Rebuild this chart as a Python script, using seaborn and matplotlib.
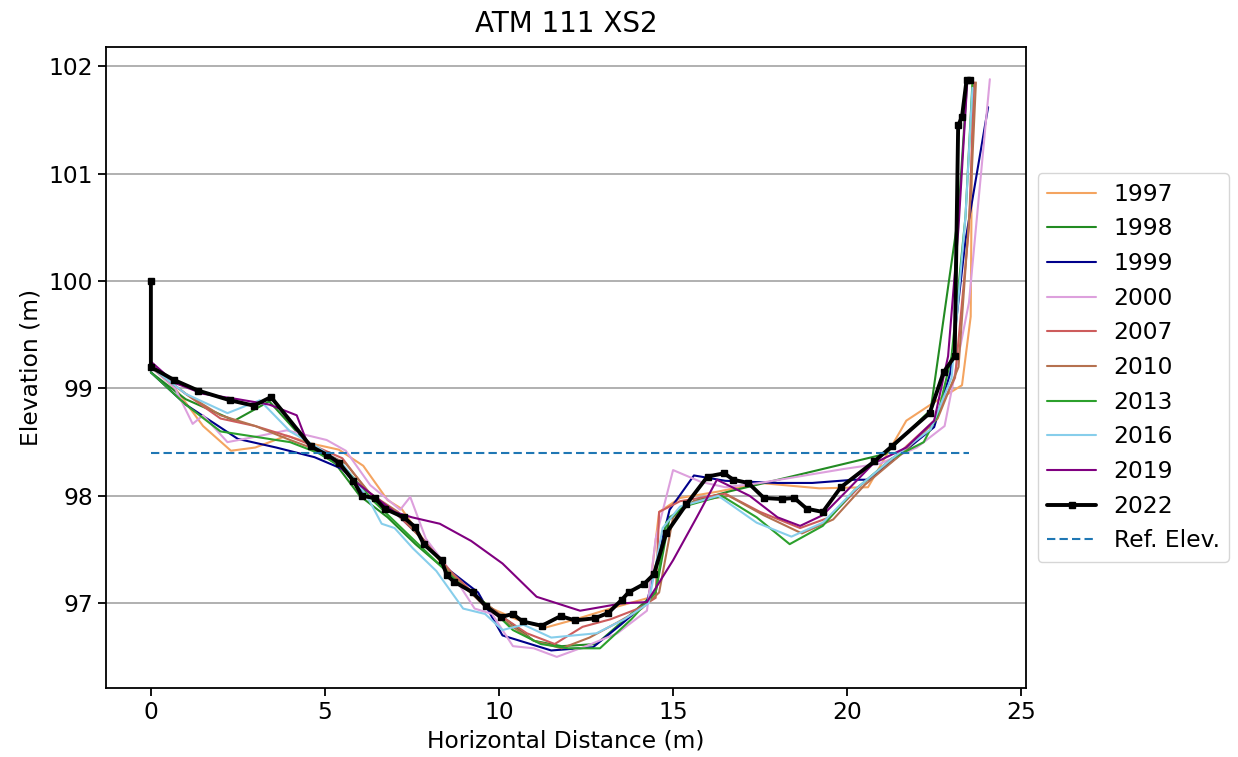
import pandas as pd
import matplotlib
matplotlib.use("Agg")
import matplotlib.pyplot as plt
import seaborn as sns

# survey profiles (distance m, elevation m)
x_1997 = [0, 0.7, 1.5, 2.3, 3.0, 3.9, 4.7, 5.4, 6.1, 6.8, 7.2, 7.7, 8.4, 9.1, 9.8, 10.5, 11.3, 12.2, 13.3, 14.3, 14.6, 15.2, 16.3, 17.5, 19.2, 20.6, 21.7, 22.4, 23.3, 23.55, 23.6]
y_1997 = [99.2, 99.0, 98.65, 98.42, 98.45, 98.56, 98.48, 98.43, 98.28, 97.96, 97.88, 97.65, 97.35, 97.12, 96.95, 96.85, 96.77, 96.85, 96.96, 97.05, 97.85, 97.98, 98.04, 98.12, 98.07, 98.08, 98.7, 98.85, 99.03, 99.67, 101.88]

x_1998 = [0, 1.0, 2.4, 3.4, 4.6, 5.3, 6.0, 6.8, 7.6, 8.5, 9.4, 10.2, 11.0, 11.8, 12.8, 13.8, 14.5, 14.9, 15.6, 16.6, 21.1, 22.4, 23.2, 23.45]
y_1998 = [99.15, 98.9, 98.7, 98.88, 98.45, 98.3, 98.0, 97.8, 97.55, 97.3, 97.05, 96.85, 96.65, 96.6, 96.62, 96.9, 97.1, 97.8, 97.95, 98.04, 98.39, 98.8, 100.63, 101.87]

x_1999 = [0, 1.0, 2.5, 3.6, 4.7, 5.5, 6.2, 7.0, 7.8, 8.6, 9.4, 10.1, 11.5, 12.7, 13.5, 14.25, 14.9, 15.6, 16.5, 18.0, 19.0, 20.2, 20.6, 21.4, 22.5, 22.96, 23.4, 24.05]
y_1999 = [99.15, 98.85, 98.53, 98.45, 98.36, 98.25, 98.0, 97.85, 97.6, 97.3, 97.1, 96.7, 96.56, 96.59, 96.8, 97.01, 97.87, 98.19, 98.14, 98.12, 98.12, 98.15, 98.15, 98.35, 98.64, 99.14, 100.38, 101.62]

x_2000 = [0, 0, 0.7, 1.2, 1.5, 2.2, 3.0, 3.9, 5.05, 5.6, 6.3, 7.16, 7.45, 7.9, 8.6, 9.3, 9.8, 10.4, 11.0, 11.66, 12.5, 13.4, 14.25, 14.5, 15.0, 15.8, 16.5, 17.5, 19.9, 20.95, 22.0, 22.8, 23.5, 24.1]
y_2000 = [99.4, 99.2, 99.0, 98.67, 98.75, 98.5, 98.55, 98.61, 98.52, 98.42, 98.1, 97.87, 97.99, 97.6, 97.3, 96.95, 96.9, 96.6, 96.58, 96.5, 96.6, 96.72, 96.93, 97.6, 98.24, 98.13, 98.08, 98.12, 98.25, 98.3, 98.45, 98.65, 99.8, 101.88]

x_2007 = [0, 1.0, 2.0, 3.0, 4.0, 4.8, 5.5, 6.2, 7.0, 7.8, 8.6, 9.4, 10.2, 10.8, 11.6, 12.4, 13.2, 14.0, 14.5, 14.6, 15.2, 16.5, 17.5, 18.65, 19.5, 20.4, 21.5, 22.5, 23.1, 23.5, 23.65]
y_2007 = [99.2, 98.95, 98.72, 98.65, 98.55, 98.45, 98.35, 98.05, 97.85, 97.6, 97.3, 97.05, 96.85, 96.72, 96.62, 96.78, 96.85, 96.95, 97.05, 97.85, 97.95, 98.02, 97.85, 97.7, 97.8, 98.1, 98.4, 98.7, 99.1, 100.5, 101.85]

x_2010 = [0, 1.0, 2.0, 3.0, 4.0, 5.0, 5.6, 6.3, 7.1, 7.9, 8.7, 9.5, 10.3, 11.0, 11.8, 12.6, 13.4, 14.1, 14.6, 15.0, 15.6, 16.6, 17.6, 18.7, 19.6, 20.5, 21.6, 22.6, 23.2, 23.55, 23.7]
y_2010 = [99.2, 98.95, 98.75, 98.65, 98.52, 98.4, 98.3, 98.02, 97.85, 97.55, 97.25, 97.0, 96.8, 96.65, 96.58, 96.68, 96.82, 96.95, 97.1, 97.8, 97.95, 98.0, 97.82, 97.65, 97.78, 98.1, 98.4, 98.72, 99.2, 100.8, 101.85]

x_2013 = [0, 1.0, 2.0, 3.0, 4.0, 4.8, 5.6, 6.4, 7.2, 8.0, 8.8, 9.6, 10.4, 11.2, 12.0, 12.9, 13.8, 14.5, 14.8, 15.3, 16.4, 17.4, 18.35, 19.3, 20.2, 21.3, 22.2, 22.6, 23.0, 23.4, 23.6]
y_2013 = [99.15, 98.85, 98.6, 98.55, 98.5, 98.4, 98.25, 97.95, 97.7, 97.45, 97.2, 97.0, 96.75, 96.62, 96.58, 96.58, 96.85, 97.1, 97.75, 97.9, 98.0, 97.8, 97.55, 97.72, 98.05, 98.35, 98.5, 98.75, 99.3, 100.6, 101.85]

x_2016 = [0, 1.0, 2.2, 3.13, 4.0, 4.8, 5.5, 6.2, 6.63, 7.0, 7.53, 8.2, 8.97, 9.6, 10.1, 10.7, 11.5, 12.8, 13.6, 14.3, 14.7, 15.2, 16.3, 17.4, 18.4, 19.3, 20.2, 21.3, 22.4, 23.0, 23.4, 23.6]
y_2016 = [99.2, 98.95, 98.77, 98.89, 98.6, 98.45, 98.3, 98.0, 97.74, 97.7, 97.51, 97.3, 96.95, 96.9, 96.75, 96.8, 96.68, 96.72, 96.85, 97.0, 97.7, 97.9, 98.0, 97.75, 97.62, 97.75, 98.05, 98.35, 98.62, 99.1, 100.6, 101.8]

x_2019 = [0, 0, 0.7, 1.5, 2.5, 3.4, 4.19, 4.52, 5.2, 5.8, 6.4, 7.0, 7.5, 8.3, 9.2, 10.1, 11.08, 12.33, 13.56, 14.25, 15.0, 15.68, 16.26, 17.2, 18.0, 18.65, 19.3, 20.0, 20.75, 21.7, 22.5, 22.9, 23.2, 23.45]
y_2019 = [99.9, 99.25, 99.05, 98.95, 98.9, 98.85, 98.75, 98.47, 98.35, 98.15, 98.0, 97.85, 97.8, 97.74, 97.58, 97.37, 97.06, 96.93, 97.0, 97.01, 97.4, 97.8, 98.15, 98.0, 97.8, 97.72, 97.82, 98.05, 98.3, 98.45, 98.7, 99.3, 100.5, 101.85]

x_2022 = [0.0, 0.0, 0.66, 1.36, 2.27, 2.96, 3.45, 4.6, 5.07, 5.4, 5.82, 6.06, 6.43, 6.72, 7.26, 7.59, 7.84, 8.35, 8.5, 8.71, 9.25, 9.63, 10.05, 10.39, 10.68, 11.23, 11.77, 12.18, 12.76, 13.14, 13.52, 13.72, 14.17, 14.45, 14.8, 15.38, 15.99, 16.47, 16.73, 17.16, 17.61, 18.12, 18.48, 18.84, 19.3, 19.82, 20.78, 21.28, 22.37, 22.77, 23.09, 23.19, 23.3, 23.43, 23.53]
y_2022 = [100.0, 99.2, 99.08, 98.98, 98.89, 98.84, 98.92, 98.46, 98.38, 98.31, 98.14, 98.0, 97.98, 97.88, 97.8, 97.71, 97.55, 97.4, 97.26, 97.2, 97.1, 96.97, 96.87, 96.9, 96.83, 96.79, 96.88, 96.84, 96.86, 96.91, 97.03, 97.1, 97.18, 97.27, 97.65, 97.92, 98.18, 98.21, 98.15, 98.12, 97.98, 97.97, 97.98, 97.88, 97.85, 98.08, 98.32, 98.46, 98.77, 99.15, 99.3, 101.45, 101.53, 101.87, 101.87]

ref_x = [0, 23.5]
ref_y = [98.4, 98.4]

years = ["1997", "1998", "1999", "2000", "2007", "2010", "2013", "2016", "2019"]
xs = [x_1997, x_1998, x_1999, x_2000, x_2007, x_2010, x_2013, x_2016, x_2019]
ys = [y_1997, y_1998, y_1999, y_2000, y_2007, y_2010, y_2013, y_2016, y_2019]
colors = ["sandybrown", "forestgreen", "darkblue", "plum", "indianred", "#b5714f", "#2ca02c", "skyblue", "purple"]

rows = []
for yr, xv, yv in zip(years, xs, ys):
    for a, b in zip(xv, yv):
        rows.append({"year": yr, "dist": a, "elev": b})
df = pd.DataFrame(rows)

sns.set_style("ticks")
fs = 16.8
plt.rcParams["font.family"] = ["DejaVu Sans"]
plt.rcParams["font.size"] = fs
plt.rcParams["text.color"] = "black"
plt.rcParams["axes.labelcolor"] = "black"
plt.rcParams["xtick.color"] = "black"
plt.rcParams["ytick.color"] = "black"

fig = plt.figure(figsize=(12.38, 7.57), dpi=100)
ax = fig.add_axes([0.0856, 0.0911, 0.7432, 0.8468])

sns.lineplot(data=df, x="dist", y="elev", hue="year", palette=dict(zip(years, colors)),
             sort=False, estimator=None, linewidth=1.5, ax=ax)
ax.plot(x_2022, y_2022, color="black", lw=2.8, marker="s", markersize=4.5, label="2022")
ax.plot(ref_x, ref_y, color="#1f77b4", lw=1.5, ls="--", dashes=(4, 2), label="Ref. Elev.")

ax.set_xlim(-1.29, 25.14)
ax.set_ylim(96.21, 102.18)
ax.set_xticks([0, 5, 10, 15, 20, 25])
ax.set_yticks([97, 98, 99, 100, 101, 102])
ax.grid(axis="y", color="#b0b0b0", lw=1.4)
ax.tick_params(labelsize=fs, length=6, width=1.3, color="black")
for s in ax.spines.values():
    s.set_color("black")
    s.set_linewidth(1.3)
ax.set_xlabel("Horizontal Distance (m)", fontsize=fs)
ax.set_ylabel("Elevation (m)", fontsize=fs)
ax.set_title("ATM 111 XS2", fontsize=20, pad=11)

ax.legend(loc="center left", bbox_to_anchor=(1.0, 0.5), borderaxespad=0.5, fontsize=fs,
          title=None, labelspacing=0.5, handlelength=2.1, handletextpad=0.75, borderpad=0.4)

fig.savefig("out.png", dpi=100)
